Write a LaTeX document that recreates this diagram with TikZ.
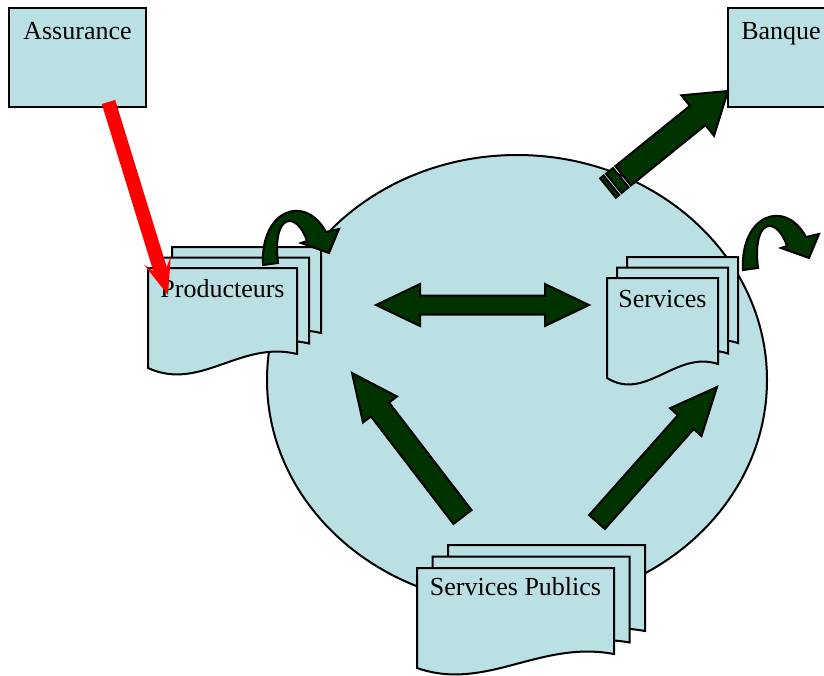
\documentclass[tikz,border=0pt]{standalone}
\usepackage{fontspec}
\setmainfont{Liberation Serif}
\usetikzlibrary{calc}
\definecolor{paleblue}{HTML}{BBE0E3}
\definecolor{darkgreen}{HTML}{003300}

% one sheet with a wavy bottom edge: left, top, width
\newcommand\docpage[3]{%
  \filldraw[sheet] (#1,#2) -- ({#1+#3},#2) -- ({#1+#3},{#2+86})
    .. controls ({#1+0.62*#3},{#2+72}) and ({#1+0.35*#3},{#2+124}) .. (#1,{#2+100}) -- cycle;}
% three stacked sheets: left, top, width, xshift, yshift
\newcommand\multidoc[5]{%
  \docpage{#1+2*#4}{#2-2*#5}{#3}
  \docpage{#1+#4}{#2-#5}{#3}
  \docpage{#1}{#2}{#3}}
% tail, tip, half shaft, half head, head length
\newcommand\blockarrow[5]{%
  \filldraw[blockarr] ($(#1)!#3!90:(#2)$) -- ($(#2)!#5!(#1)!#3!-90:(#1)$)
    -- ($(#2)!#5!(#1)!#4!-90:(#1)$) -- (#2)
    -- ($(#2)!#5!(#1)!#4!90:(#1)$) -- ($(#2)!#5!(#1)!#3!90:(#1)$)
    -- ($(#1)!#3!-90:(#2)$) -- cycle;}
% tip, tip, half shaft, half head, head length
\newcommand\doublearrow[5]{%
  \filldraw[blockarr] (#1) -- ($(#1)!#5!(#2)!#4!90:(#2)$) -- ($(#1)!#5!(#2)!#3!90:(#2)$)
    -- ($(#2)!#5!(#1)!#3!-90:(#1)$) -- ($(#2)!#5!(#1)!#4!-90:(#1)$) -- (#2)
    -- ($(#2)!#5!(#1)!#4!90:(#1)$) -- ($(#2)!#5!(#1)!#3!90:(#1)$)
    -- ($(#1)!#5!(#2)!#3!-90:(#2)$) -- ($(#1)!#5!(#2)!#4!-90:(#2)$) -- cycle;}
% stripe across an arrow: tail, tip, from, to, half width
\newcommand\stripe[5]{%
  \filldraw[blockarr] ($(#1)!#3!(#2)!#5!90:(#2)$) -- ($(#1)!#4!(#2)!#5!90:(#2)$)
    -- ($(#1)!#4!(#2)!#5!-90:(#2)$) -- ($(#1)!#3!(#2)!#5!-90:(#2)$) -- cycle;}

\begin{document}
\begin{tikzpicture}[x=1pt, y=-1pt, line width=2pt,
    font=\fontsize{26pt}{30pt}\selectfont,
    sheet/.style={draw=black, fill=paleblue},
    blockarr/.style={draw=black, fill=darkgreen, line width=2pt},
    box/.style={draw=black, fill=paleblue, inner sep=0pt, minimum height=99pt,
      text height=31pt, text depth=68pt},
    doctext/.style={anchor=base, inner sep=0pt},
    pics/uturn/.style={code={
      \filldraw[blockarr] (0,0) .. controls (-3,-55) and (42,-72) .. (63,-33)
        -- (76,-36) -- (66,-12) -- (38,-22) -- (44,-24)
        .. controls (34,-54) and (9,-53) .. (15,-2) -- cycle;}}]
  \clip (0,0) rectangle (824,675);

  \filldraw[sheet] (517,380) ellipse [x radius=250, y radius=225];

  \multidoc{148}{268}{149}{12}{10.5}
  \multidoc{607}{278}{111}{10}{10.5}
  \multidoc{417}{568}{197}{15.5}{11.5}
  \node[doctext] (prod) at (222.5,297) {Producteurs};
  \node[doctext] (serv) at (662.5,307) {Services};
  \node[doctext] (pub) at (515.5,595) {Services Publics};

  \node[box, minimum width=137pt, anchor=north west] (assur) at (8,7) {Assurance};
  \node[box, minimum width=106pt, anchor=north west] (banque) at (727,7) {Banque};

  \coordinate (dblL) at (376,305);
  \coordinate (dblR) at (589,305);
  \coordinate (upL0) at (462.5,517);
  \coordinate (upL1) at (352,373);
  \coordinate (upR0) at (597,522);
  \coordinate (upR1) at (717,387);
  \coordinate (banS) at (608,188);
  \coordinate (banT) at (728,91);
  \coordinate (banB) at ($(banS)!19.4pt!(banT)$);

  \doublearrow{dblL}{dblR}{9.5pt}{21pt}{44pt}
  \blockarrow{upL0}{upL1}{11.4pt}{21.4pt}{46pt}
  \blockarrow{upR0}{upR1}{10.5pt}{21pt}{47pt}
  \blockarrow{banB}{banT}{12.4pt}{26pt}{39pt}
  \stripe{banS}{banT}{7.4pt}{16.4pt}{12.4pt}
  \stripe{banS}{banT}{0pt}{4.4pt}{12.4pt}

  \pic at (263,265) {uturn};
  \pic at (743,270) {uturn};

  \coordinate (redS) at ($(assur.south)+(31,-6)$);
  \coordinate (redT) at (168,295);
  \fill[red] ($(redS)!7pt!90:(redT)$) -- ($(redT)!27pt!(redS)!7pt!-90:(redS)$)
    -- ($(redT)!36pt!(redS)!14pt!-90:(redS)$) -- (redT)
    -- ($(redT)!36pt!(redS)!14pt!90:(redS)$) -- ($(redT)!27pt!(redS)!7pt!90:(redS)$)
    -- ($(redS)!7pt!-90:(redT)$) -- cycle;
\end{tikzpicture}
\end{document}
